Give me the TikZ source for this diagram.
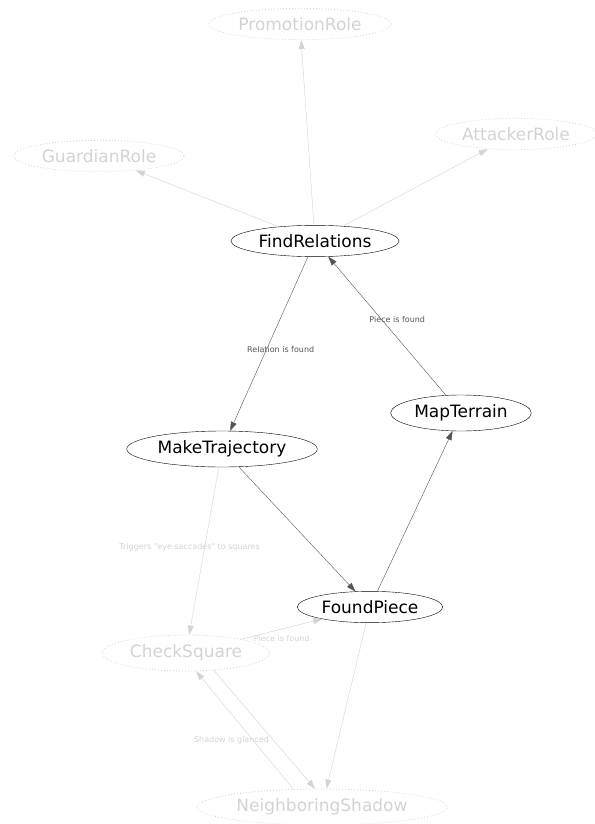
\documentclass[tikz,border=0pt]{standalone}
\usepackage{fontspec}
\setmainfont{DejaVu Sans}[Ligatures=TeXOff]
\usetikzlibrary{shapes.geometric,arrows.meta}
\definecolor{faintgray}{HTML}{D3D3D3}
\definecolor{edgegray}{HTML}{555555}

\begin{document}
\begin{tikzpicture}[x=1pt, y=-1pt,
  role/.style={ellipse, draw=black, inner xsep=3pt, inner ysep=4.5pt, font=\fontsize{17}{20}\selectfont},
  faintrole/.style={role, draw=faintgray, line width=0.8pt, dash pattern=on 0.8pt off 2.2pt, text=faintgray},
  link/.style={draw=edgegray, -{Triangle[length=9pt,width=6pt]}},
  faintlink/.style={draw=faintgray, -{Triangle[length=9pt,width=6pt]}},
  lbl/.style={font=\fontsize{8}{9}\selectfont, text=edgegray, inner sep=0pt},
  faintlbl/.style={lbl, text=faintgray}]

  \useasboundingbox (0,0) rectangle (594,824);

  \node [faintrole] (PR) at (300,24)  {PromotionRole};
  \node [faintrole] (GR) at (99,156)  {GuardianRole};
  \node [faintrole] (AR) at (516,134) {AttackerRole};
  \node [role]      (FR) at (315,241) {FindRelations};
  \node [role]      (MP) at (461,413) {MapTerrain};
  \node [role]      (MT) at (222,449) {MakeTrajectory};
  \node [role]      (FP) at (370,607) {FoundPiece};
  \node [faintrole] (CS) at (186,653) {CheckSquare};
  \node [faintrole] (NS) at (322,807) {NeighboringShadow};

  \draw [faintlink] (FR) -- (PR);
  \draw [faintlink] (FR) -- (GR);
  \draw [faintlink] (FR) -- (AR);
  \draw [link] (FR) -- (MT) node [lbl, pos=0.53, xshift=14pt] {Relation is found};
  \draw [link] (MP) -- (FR) node [lbl, pos=0.55, xshift=16pt] {Piece is found};
  \draw [link] (MT) -- (FP);
  \draw [link] (FP) -- (MP);
  \draw [faintlink] (MT) -- (CS) node [faintlbl, pos=0.48, xshift=-15pt] {Triggers "eye saccades" to squares};
  \draw [faintlink] (CS) -- (FP) node [faintlbl, pos=0.5, yshift=-9pt] {Piece is found};
  \draw [faintlink] (FP) -- (NS);
  \draw [faintlink] (CS.-32) -- (NS.111);
  \draw [faintlink] (NS.148) -- (CS.-61) node [faintlbl, pos=0.41, xshift=-22pt] {Shadow is glanced};
\end{tikzpicture}
\end{document}
